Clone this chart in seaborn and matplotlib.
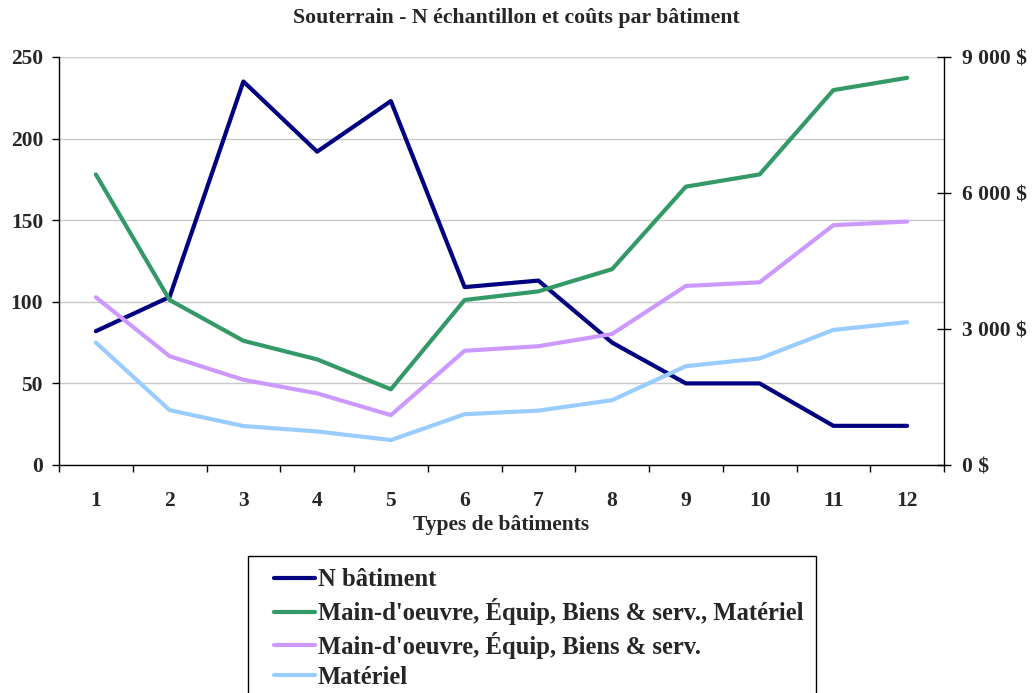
import matplotlib
matplotlib.use("Agg")
import matplotlib.pyplot as plt
from matplotlib.legend_handler import HandlerLine2D
import seaborn as sns

# Building types (x axis)
types = [1, 2, 3, 4, 5, 6, 7, 8, 9, 10, 11, 12]

# Number of buildings sampled (left axis)
n_batiment = [82, 103, 235, 192, 223, 109, 113, 75, 50, 50, 24, 24]

# Costs per building in $ (right axis)
cout_total = [6410, 3640, 2740, 2330, 1670, 3640, 3830, 4320, 6140, 6410, 8270, 8540]
cout_mo_equip = [3700, 2400, 1880, 1580, 1100, 2520, 2620, 2890, 3950, 4030, 5290, 5370]
cout_materiel = [2700, 1210, 860, 740, 550, 1120, 1200, 1430, 2180, 2350, 2980, 3150]

labels = [
    "N bâtiment",
    "Main-d'oeuvre, Équip, Biens & serv., Matériel",
    "Main-d'oeuvre, Équip, Biens & serv.",
    "Matériel",
]
colors = ["#000080", "#339966", "#CC99FF", "#99CCFF"]

left_ticks = [0, 50, 100, 150, 200, 250]
right_ticks = [0, 3000, 6000, 9000]
right_ticklabels = ["0 $", "3 000 $", "6 000 $", "9 000 $"]

title = "Souterrain - N échantillon et coûts par bâtiment"
xlabel = "Types de bâtiments"

sns.set_theme(style="white")
plt.rcParams["font.family"] = ["Liberation Serif", "DejaVu Serif"]
plt.rcParams["font.weight"] = "bold"

W, H = 1032, 693
fig = plt.figure(figsize=(W / 100, H / 100), dpi=100)
ax = fig.add_axes([59 / W, 1 - 465 / H, (944 - 59) / W, (465 - 57) / H])
ax2 = ax.twinx()

lw = 3.0
sns.lineplot(x=types, y=n_batiment, ax=ax, color=colors[0], linewidth=lw,
             legend=False, zorder=3)
for vals, col in zip([cout_total, cout_mo_equip, cout_materiel], colors[1:]):
    sns.lineplot(x=types, y=vals, ax=ax2, color=col, linewidth=lw, legend=False)

# Left axis
ax.set_xlim(0.5, 12.5)
ax.set_ylim(0, 250)
ax.set_yticks(left_ticks)
ax.set_yticklabels([str(v) for v in left_ticks])
ax.yaxis.grid(True, color="#c8c8c8", linewidth=1.0)
ax.set_axisbelow(True)

# Right axis
ax2.set_ylim(0, 9000)
ax2.set_yticks(right_ticks)
ax2.set_yticklabels(right_ticklabels)
ax2.grid(False)

# x ticks: labels at categories, marks at category boundaries
ax.set_xticks(types)
ax.set_xticklabels([str(t) for t in types])
ax.set_xticks([t - 0.5 for t in types] + [12.5], minor=True)
ax.tick_params(axis="x", which="major", length=0, pad=18.5, labelsize=15.5)
ax.tick_params(axis="x", which="minor", length=5, width=1, direction="out",
               color="black", bottom=True)
ax.tick_params(axis="y", which="major", length=5, width=1, direction="out",
               color="black", left=True, pad=6.5, labelsize=15.5)
ax2.tick_params(axis="y", which="major", length=9.4, width=1, direction="inout",
                color="black", right=True, pad=8.3, labelsize=15.5)

for a in (ax, ax2):
    a.spines["top"].set_visible(False)
    for side in ("left", "right", "bottom"):
        a.spines[side].set_color("black")
        a.spines[side].set_linewidth(1.0)
ax.spines["right"].set_visible(False)
ax2.spines["left"].set_visible(False)
ax2.spines["bottom"].set_visible(False)

for lab in ax.get_xticklabels() + ax.get_yticklabels() + ax2.get_yticklabels():
    lab.set_fontweight("bold")

ax.set_xlabel(xlabel, fontsize=15.5, fontweight="bold")
ax.xaxis.set_label_coords(0.5, -(525 - 465) / 408)
ax.xaxis.label.set_va("center")
ax.set_ylabel("")
ax2.set_ylabel("")

fig.text(0.5, 1 - 18 / H, title, ha="center", va="center",
         fontsize=15.7, fontweight="bold")

handles = list(ax.get_lines()[:1]) + list(ax2.get_lines()[:3])
handler = HandlerLine2D(xpad=0.55)
leg = fig.legend(handles, labels, loc="upper left",
                 bbox_to_anchor=(248 / W, 1 - 556 / H),
                 bbox_transform=fig.transFigure,
                 prop={"size": 17.7, "weight": "bold"},
                 frameon=True, fancybox=False, shadow=False,
                 borderpad=0.5, labelspacing=0.28, handlelength=2.22,
                 handletextpad=0.13, borderaxespad=0,
                 handler_map={h: handler for h in handles})
leg.get_frame().set_edgecolor("black")
leg.get_frame().set_linewidth(1.0)
leg.get_frame().set_facecolor("white")
leg.get_frame().set_alpha(1)
for h in leg.legend_handles:
    h.set_linewidth(lw)

fig.savefig("out.png", dpi=100)
